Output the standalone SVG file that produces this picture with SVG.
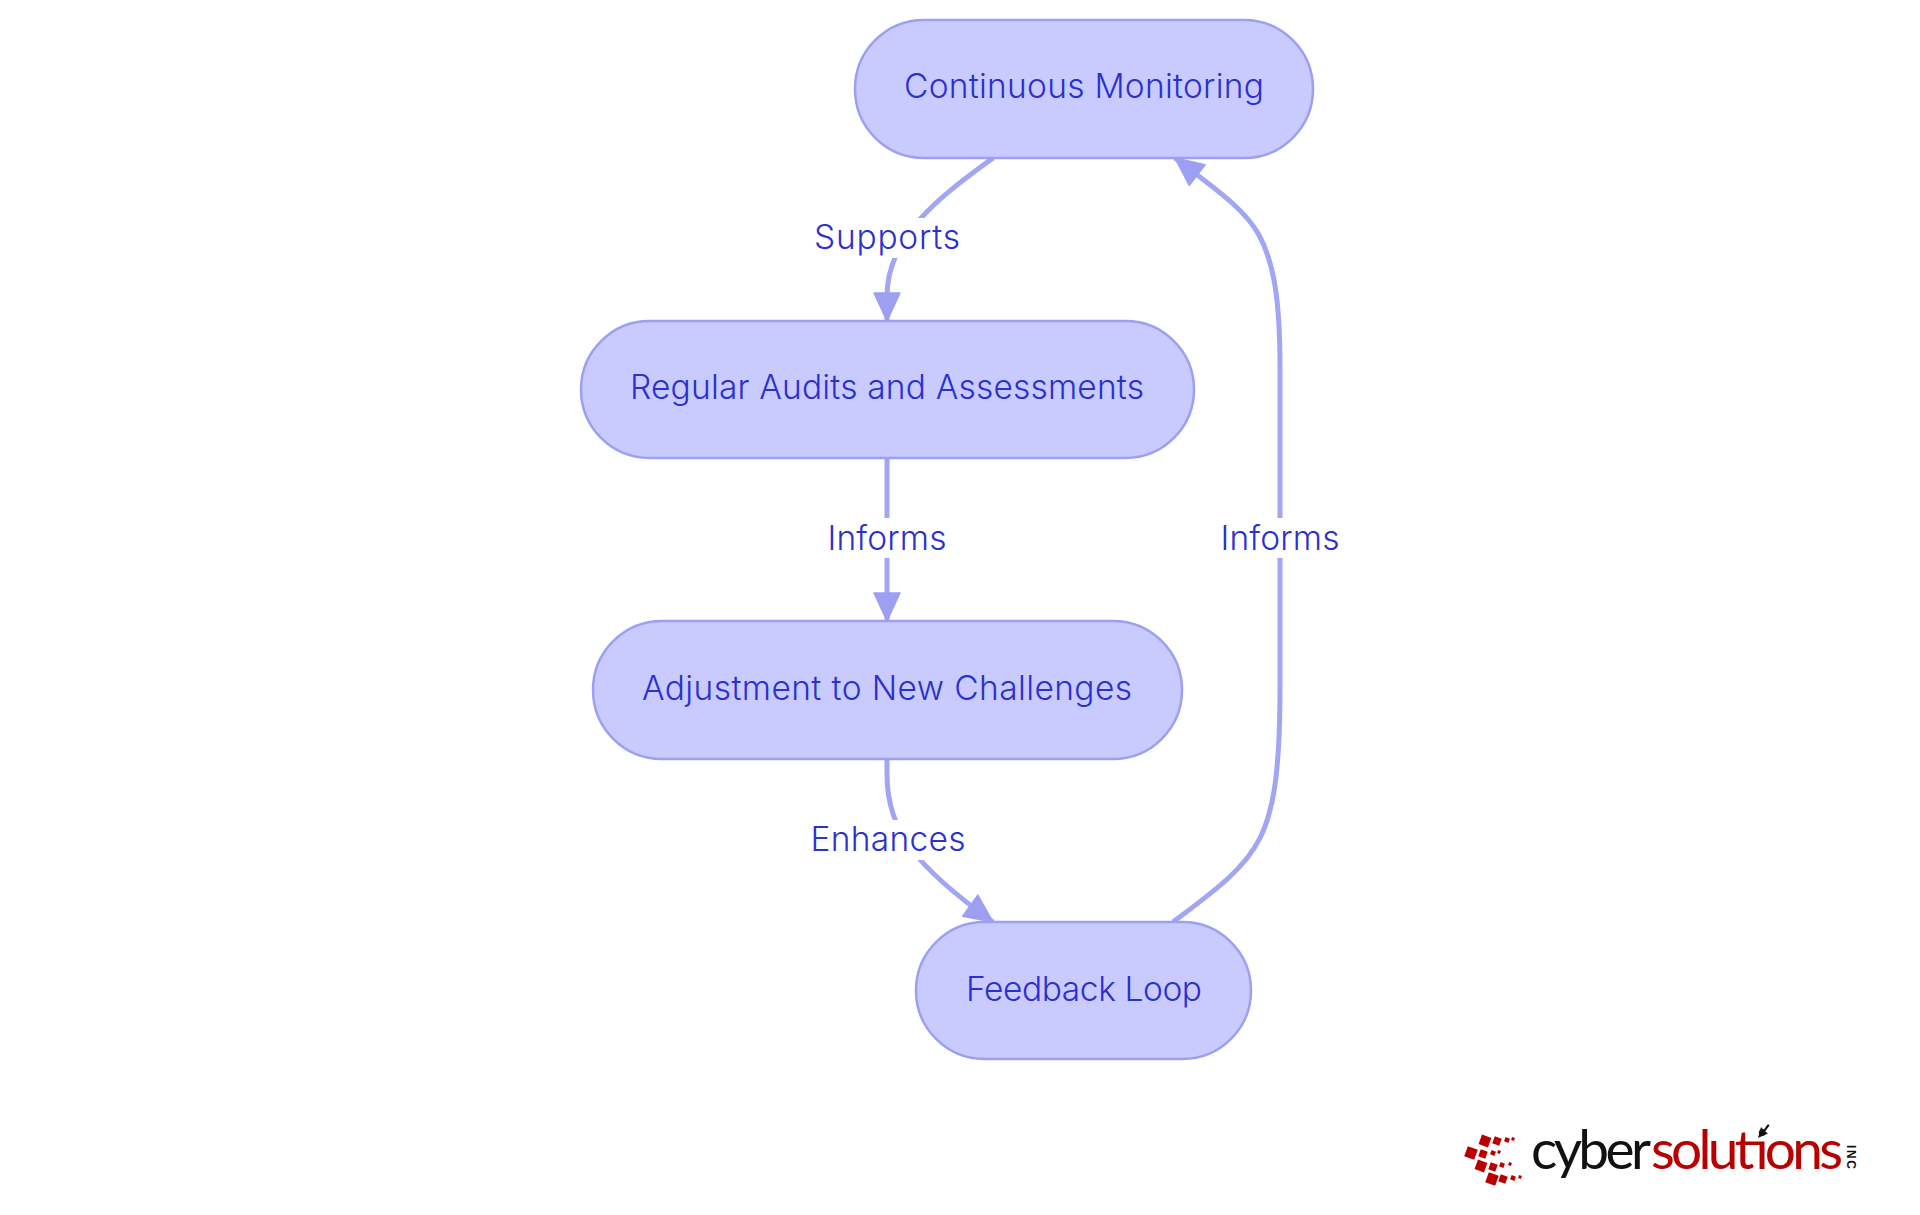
<svg xmlns="http://www.w3.org/2000/svg" width="1920" height="1215" viewBox="0 0 1920 1215">
<style>
.n{fill:#c9cbff;stroke:#9c9ff2;stroke-width:2.5}
.t{font-family:Inter,"Noto Sans",sans-serif;font-size:33.5px;font-weight:300;fill:#2b30cf;text-anchor:middle;dominant-baseline:central}
.e{fill:none;stroke:#a2a5f4;stroke-width:5}
.b{fill:#fff}
.s{fill:#b80000}
.lg{font-family:Lato,"Liberation Sans",sans-serif;font-size:55px}
</style>
<defs>
<marker id="a" markerUnits="userSpaceOnUse" markerWidth="34" markerHeight="32" refX="30" refY="16" orient="auto" overflow="visible"><path d="M2,3L30,16L2,29Z" fill="#9c9ff2" stroke="#9c9ff2" stroke-width="1.5" stroke-linejoin="round"/></marker>
</defs>
<g id="connectors">
<path class="e" marker-end="url(#a)" d="M993,158C950,190 887,232 887,296L887,321"/>
<path class="e" marker-end="url(#a)" d="M887,458L887,621"/>
<path class="e" marker-end="url(#a)" d="M887,759L887,775C887,830 915,866 993,922"/>
<path class="e" marker-end="url(#a)" d="M1173,922C1213,892 1244,870 1260,838C1274,810 1280,770 1280,686L1280,368C1280,300 1274,263 1259,235C1244,208 1214,188 1175,158"/>
</g>
<g id="edge-labels">
<g id="label-supports"><rect class="b" x="810" y="218" width="154" height="40"/><text class="t" x="887" y="236.5" textLength="146">Supports</text></g>
<g id="label-informs-1"><rect class="b" x="825" y="518" width="124" height="40"/><text class="t" x="887" y="538" textLength="119">Informs</text></g>
<g id="label-enhances"><rect class="b" x="806" y="820" width="162" height="40"/><text class="t" x="888" y="839" textLength="155">Enhances</text></g>
<g id="label-informs-2"><rect class="b" x="1218" y="518" width="124" height="40"/><text class="t" x="1280" y="538" textLength="119">Informs</text></g>
</g>
<g id="node-continuous"><rect class="n" x="855" y="20" width="458" height="138" rx="69"/><text class="t" x="1084" y="86" textLength="360">Continuous Monitoring</text></g>
<g id="node-audits"><rect class="n" x="581" y="321" width="613" height="137" rx="68.5"/><text class="t" x="887" y="387" textLength="514">Regular Audits and Assessments</text></g>
<g id="node-adjust"><rect class="n" x="593" y="621" width="589" height="138" rx="69"/><text class="t" x="887" y="688" textLength="490">Adjustment to New Challenges</text></g>
<g id="node-feedback"><rect class="n" x="916" y="922" width="335" height="137" rx="68.5"/><text class="t" x="1084" y="989" textLength="236">Feedback Loop</text></g>
<g id="logo">
<g class="s">
<rect x="-5" y="-5" width="10" height="10" transform="translate(1485,1141) rotate(20)"/>
<rect x="-3.7" y="-3.7" width="7.4" height="7.4" transform="translate(1497,1141) rotate(20)"/>
<rect x="-2.3" y="-2.3" width="4.6" height="4.6" transform="translate(1507,1140) rotate(20)"/>
<rect x="-1.5" y="-1.5" width="3" height="3" transform="translate(1513,1139) rotate(20)"/>
<rect x="-5.3" y="-5.3" width="10.6" height="10.6" transform="translate(1471,1153) rotate(20)"/>
<rect x="-3.7" y="-3.7" width="7.4" height="7.4" transform="translate(1483,1154) rotate(20)"/>
<rect x="-2.3" y="-2.3" width="4.6" height="4.6" transform="translate(1493,1153) rotate(20)"/>
<rect x="-1.5" y="-1.5" width="3" height="3" transform="translate(1499,1152) rotate(20)"/>
<rect x="-5" y="-5" width="10" height="10" transform="translate(1481,1166) rotate(20)"/>
<rect x="-3.7" y="-3.7" width="7.4" height="7.4" transform="translate(1493,1167) rotate(20)"/>
<rect x="-2.3" y="-2.3" width="4.6" height="4.6" transform="translate(1502,1165) rotate(20)"/>
<rect x="-1.5" y="-1.5" width="3" height="3" transform="translate(1510,1164) rotate(20)"/>
<rect x="-5.3" y="-5.3" width="10.6" height="10.6" transform="translate(1492,1179) rotate(20)"/>
<rect x="-3.7" y="-3.7" width="7.4" height="7.4" transform="translate(1503,1179) rotate(20)"/>
<rect x="-2.3" y="-2.3" width="4.6" height="4.6" transform="translate(1513,1178) rotate(20)"/>
<rect x="-1.5" y="-1.5" width="3" height="3" transform="translate(1520,1177) rotate(20)"/>
</g>
<text class="lg" x="1531" y="1169" fill="#111" textLength="120">cyber</text>
<text class="lg" x="1651" y="1169" fill="#b80000" textLength="192">solutions</text>
<path d="M1758,1138L1761,1127L1763.5,1130L1768,1124L1769.5,1125.5L1765,1131.5L1768,1133.5Z" fill="#111"/>
<text font-family="Liberation Sans,sans-serif" font-size="12" font-weight="bold" fill="#111" transform="translate(1847,1145) rotate(90)" textLength="24">INC</text>
</g>
</svg>
